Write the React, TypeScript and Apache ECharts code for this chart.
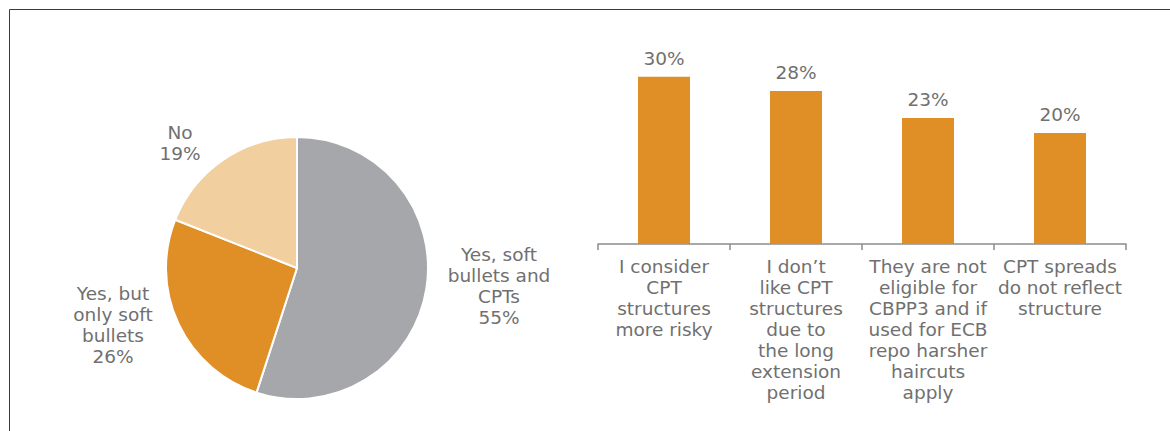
import React, { useEffect, useRef } from "react";
import * as echarts from "echarts";

const pieNames = ["Yes, soft\nbullets and\nCPTs", "Yes, but\nonly soft\nbullets", "No"];
const pieValues = [55, 26, 19];
const pieColors = ["#a6a7ab", "#e08f27", "#f2cf9f"];
const pieLabelPos = [
  [499, 286],
  [113, 325],
  [180, 143],
];

const barCategories = [
  "I consider\nCPT\nstructures\nmore risky",
  "I don\u2019t\nlike CPT\nstructures\ndue to\nthe long\nextension\nperiod",
  "They are not\neligible for\nCBPP3 and if\nused for ECB\nrepo harsher\nhaircuts\napply",
  "CPT spreads\ndo not reflect\nstructure",
];
const barValues = [30.4, 27.8, 22.9, 20.2];

const FONT = "DejaVu Sans";
const TEXT = "#707070";
const FS = 18.5;

export default function App() {
  const ref = useRef<HTMLDivElement>(null);
  useEffect(() => {
    if (!ref.current) return;
    const chart = echarts.init(ref.current, undefined, { renderer: "svg" });
    chart.setOption({
      animation: false,
      textStyle: { fontFamily: FONT },
      graphic: [
        {
          type: "rect",
          shape: { x: 9.5, y: 9.5, width: 1300, height: 600 },
          style: { fill: "none", stroke: "#3a3a3a", lineWidth: 1 },
          silent: true,
        },
      ],
      grid: { left: 598, right: 44, top: 24, bottom: 187 },
      xAxis: {
        type: "category",
        data: barCategories,
        axisLine: { lineStyle: { color: "#8c8c8c", width: 1.5 } },
        axisTick: { show: true, length: 6, lineStyle: { color: "#8c8c8c", width: 1.5 } },
        axisLabel: {
          interval: 0,
          color: TEXT,
          fontSize: FS,
          lineHeight: 21,
          margin: 12,
          fontFamily: FONT,
          align: "center",
        },
      },
      yAxis: {
        type: "value",
        min: 0,
        max: 40,
        show: false,
        splitLine: { show: false },
      },
      series: [
        {
          type: "pie",
          center: [297, 268],
          radius: 131,
          startAngle: 90,
          clockwise: true,
          data: pieNames.map((n, i) => ({
            name: n,
            value: pieValues[i],
            itemStyle: { color: pieColors[i] },
          })),
          itemStyle: { borderColor: "#ffffff", borderWidth: 2 },
          label: {
            show: true,
            position: "outside",
            formatter: "{b}\n{c}%",
            color: TEXT,
            fontSize: FS,
            lineHeight: 21,
            fontFamily: FONT,
            align: "center",
          },
          labelLine: { show: false },
          labelLayout: (p: any) => ({
            x: pieLabelPos[p.dataIndex][0],
            y: pieLabelPos[p.dataIndex][1],
            align: "center",
            verticalAlign: "middle",
          }),
        },
        {
          type: "bar",
          data: barValues,
          barWidth: 52,
          itemStyle: { color: "#e08f27" },
          label: {
            show: true,
            position: "top",
            distance: 9,
            formatter: (p: any) => Math.round(p.value) + "%",
            color: TEXT,
            fontSize: FS,
            fontFamily: FONT,
          },
        },
      ],
    });
    return () => chart.dispose();
  }, []);
  return (
    <div
      ref={ref}
      style={{ position: "fixed", left: 0, top: 0, width: 1170, height: 431, background: "#fff" }}
    />
  );
}
